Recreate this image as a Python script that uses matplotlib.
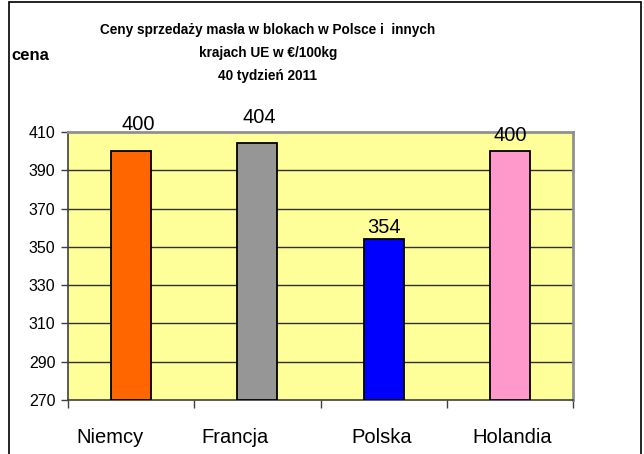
import matplotlib
matplotlib.use("Agg")
import matplotlib.pyplot as plt
from matplotlib.patches import Rectangle
from matplotlib.transforms import ScaledTranslation

categories = ["Niemcy", "Francja", "Polska", "Holandia"]
values = [400, 404, 354, 400]
bar_colors = ["#FF6600", "#969696", "#0000FF", "#FF99CC"]
yticks = [270, 290, 310, 330, 350, 370, 390, 410]
label_offsets_pt = [15, 15, 4.5, 7.5]
label_dx_pt = [5, 1.5, 0.5, 0]
cat_dx_px = [-21, -22, -2, 2]

plt.rcParams['font.family'] = ['Liberation Sans', 'DejaVu Sans']

W, H = 644, 454
fig = plt.figure(figsize=(W / 100, H / 100), dpi=100)
ax = fig.add_axes([68 / W, (H - 400) / H, (573 - 68) / W, (400 - 132) / H])
ax.set_facecolor("#FFFF99")

x = list(range(len(categories)))
ax.set_xlim(-0.5, len(categories) - 0.5)
ax.set_ylim(yticks[0], yticks[-1])

for yv in yticks[1:-1]:
    ax.axhline(yv, color="#303030", lw=1.0, zorder=1)

bars = ax.bar(x, [v - yticks[0] for v in values], bottom=yticks[0], width=0.317,
              color=bar_colors, edgecolor="black", linewidth=1.3, zorder=3)

for xi, v, off, dx in zip(x, values, label_offsets_pt, label_dx_pt):
    ax.annotate(str(v), (xi, v), xytext=(dx, off), textcoords="offset points",
                ha="center", va="baseline", fontsize=14.5, color="black",
                annotation_clip=False, zorder=5)

ax.set_yticks(yticks)
ax.set_yticklabels([str(t) for t in yticks], fontsize=11.5)
ax.tick_params(axis="y", direction="out", length=5, width=1, color="#404040", pad=4)

ax.set_xticks(x)
ax.set_xticklabels(categories, fontsize=14.5)
ax.tick_params(axis="x", which="major", length=0, pad=20)
for lbl, dx in zip(ax.get_xticklabels(), cat_dx_px):
    lbl.set_transform(lbl.get_transform() + ScaledTranslation(dx / 100, 0, fig.dpi_scale_trans))
ax.set_xticks([i - 0.5 for i in range(len(categories) + 1)], minor=True)
ax.tick_params(axis="x", which="minor", direction="out", length=6, width=1, color="#404040")

for s in ["left", "bottom"]:
    ax.spines[s].set_color("#404040")
    ax.spines[s].set_linewidth(1.2)
for s in ["top", "right"]:
    ax.spines[s].set_color("#909090")
    ax.spines[s].set_linewidth(2)

fig.text(268 / W, 1 - 30 / H, "Ceny sprzedaży masła w blokach w Polsce i  innych",
         ha="center", va="center", fontsize=9.8, fontweight="bold")
fig.text(268 / W, 1 - 53 / H, "krajach UE w €/100kg",
         ha="center", va="center", fontsize=9.8, fontweight="bold")
fig.text(268 / W, 1 - 76 / H, "40 tydzień 2011",
         ha="center", va="center", fontsize=9.8, fontweight="bold")
fig.text(11 / W, 1 - 55 / H, "cena", ha="left", va="center", fontsize=12, fontweight="bold")

fig.patches.append(Rectangle((9 / W, -0.05), (641 - 9) / W, 1.05 - 2 / H,
                             transform=fig.transFigure, fill=False,
                             edgecolor="black", linewidth=1.2))

fig.savefig("out.png", dpi=100)
